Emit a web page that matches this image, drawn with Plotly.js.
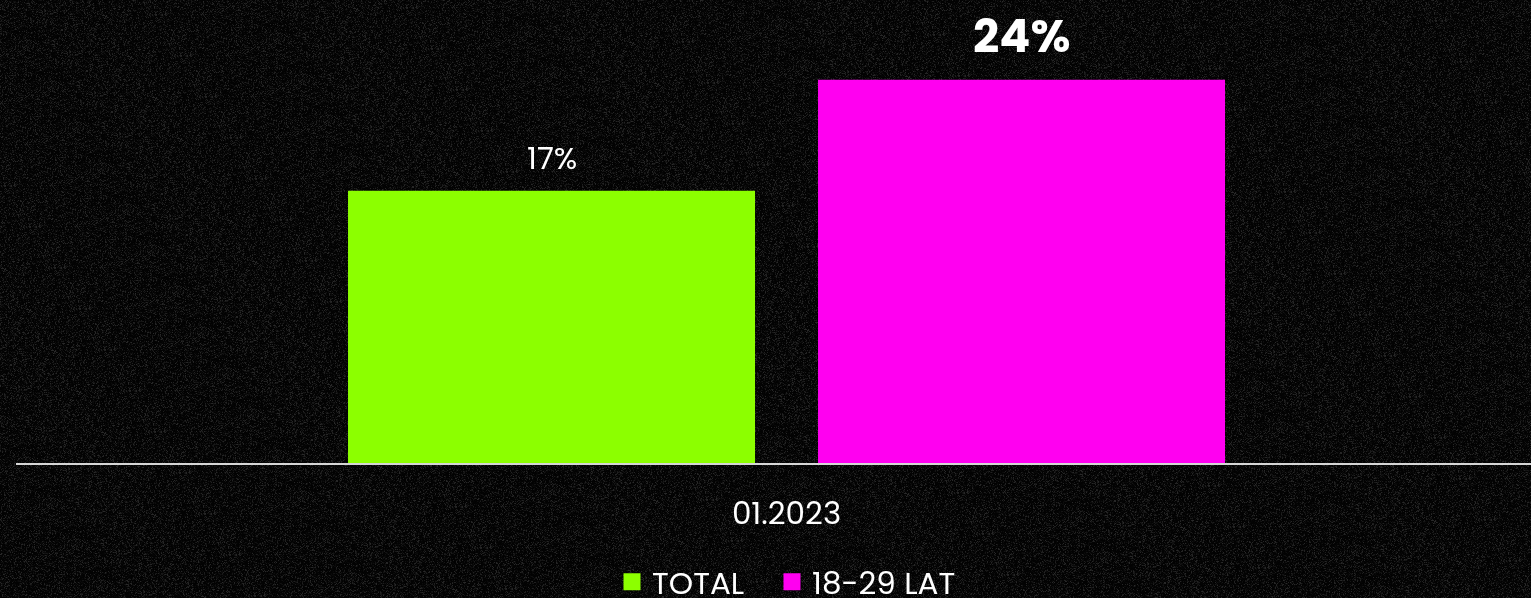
<!DOCTYPE html>
<html>
<head>
<meta charset="utf-8">
<script src="https://cdn.plot.ly/plotly-3.0.1.min.js"></script>
<style>
  html, body { margin: 0; padding: 0; width: 1531px; height: 598px; overflow: hidden; background: #050505; }
  #bg { position: absolute; left: 0; top: 0; }
  #chart { position: absolute; left: 0; top: 0; width: 1531px; height: 598px; }
</style>
</head>
<body>
<canvas id="bg" width="1531" height="598"></canvas>
<div id="chart"></div>
<script>
// ---- data ----
const categories = ["01.2023"];
const seriesNames = ["TOTAL", "18-29 LAT"];
const totalValues = [17];
const youngValues = [24];
const seriesColors = ["#8cff00", "#ff00f0"];

// ---- decorative grain background (seeded, not data) ----
(function () {
  const c = document.getElementById('bg');
  const ctx = c.getContext('2d');
  const img = ctx.createImageData(c.width, c.height);
  let s = 987654;
  function rnd() { s = (s * 1103515245 + 12345) & 0x7fffffff; return s / 0x7fffffff; }
  for (let i = 0; i < img.data.length; i += 4) {
    const r = rnd();
    const v = 2 + Math.pow(r, 4) * 40;
    img.data[i] = v; img.data[i + 1] = v; img.data[i + 2] = v; img.data[i + 3] = 255;
  }
  ctx.putImageData(img, 0, 0);
})();

const FONT = 'Poppins, "Open Sans", "Noto Sans", sans-serif';
const LINE_W = 5;          // bar outline in fill colour (also enlarges legend swatch)
const plotW = 1515;
const slotPx = 470;        // distance between bar centres
const barPx = 407 - LINE_W; // visible bar width 407 incl. outline
const bargap = 1 - 2 * slotPx / plotW;
const bargroupgap = 1 - barPx / slotPx;
const half = (1 - bargap) / 4;
const shift = 0.0086;

const traces = [
  { type: 'bar', name: seriesNames[0], x: categories, y: totalValues, legend: 'legend',
    marker: { color: seriesColors[0], line: { color: seriesColors[0], width: LINE_W } }, hoverinfo: 'none' },
  { type: 'bar', name: seriesNames[1], x: categories, y: youngValues, legend: 'legend2',
    marker: { color: seriesColors[1], line: { color: seriesColors[1], width: LINE_W } }, hoverinfo: 'none' }
];

const annotations = [
  { xref: 'x', yref: 'y', x: -half, y: totalValues[0], text: totalValues[0] + '%',
    showarrow: false, yanchor: 'middle', yshift: 35,
    font: { family: FONT, size: 31, color: '#ffffff' } },
  { xref: 'x', yref: 'y', x: half, y: youngValues[0], text: '<b>' + youngValues[0] + '%</b>',
    showarrow: false, yanchor: 'middle', yshift: 46,
    font: { family: FONT, size: 46, color: '#ffffff' } }
];

const legendBase = {
  orientation: 'h', xanchor: 'left', xref: 'paper',
  y: -0.257, yanchor: 'middle',
  font: { family: FONT, size: 31, color: '#ffffff' },
  bgcolor: 'rgba(0,0,0,0)', itemwidth: 30, tracegroupgap: 0
};

const layout = {
  width: 1531, height: 598,
  margin: { l: 16, r: 0, t: 0, b: 134.5, autoexpand: false },
  paper_bgcolor: 'rgba(0,0,0,0)',
  plot_bgcolor: 'rgba(0,0,0,0)',
  barmode: 'group',
  bargap: bargap,
  bargroupgap: bargroupgap,
  showlegend: true,
  legend: Object.assign({}, legendBase, { x: 0.3934 }),
  legend2: Object.assign({}, legendBase, { x: 0.4990 }),
  xaxis: {
    type: 'category', range: [-0.5 - shift, 0.5 - shift],
    showline: true, linecolor: '#d6d6d6', linewidth: 2,
    showgrid: false, zeroline: false, ticks: '',
    ticklabelstandoff: 22, automargin: false,
    tickfont: { family: FONT, size: 31, color: '#ffffff' },
    fixedrange: true
  },
  yaxis: {
    range: [0, 29.19], visible: false, showgrid: false, zeroline: false, fixedrange: true
  },
  annotations: annotations,
  font: { family: FONT, color: '#ffffff' }
};

Plotly.newPlot('chart', traces, layout, { displayModeBar: false, staticPlot: true });
</script>
</body>
</html>
